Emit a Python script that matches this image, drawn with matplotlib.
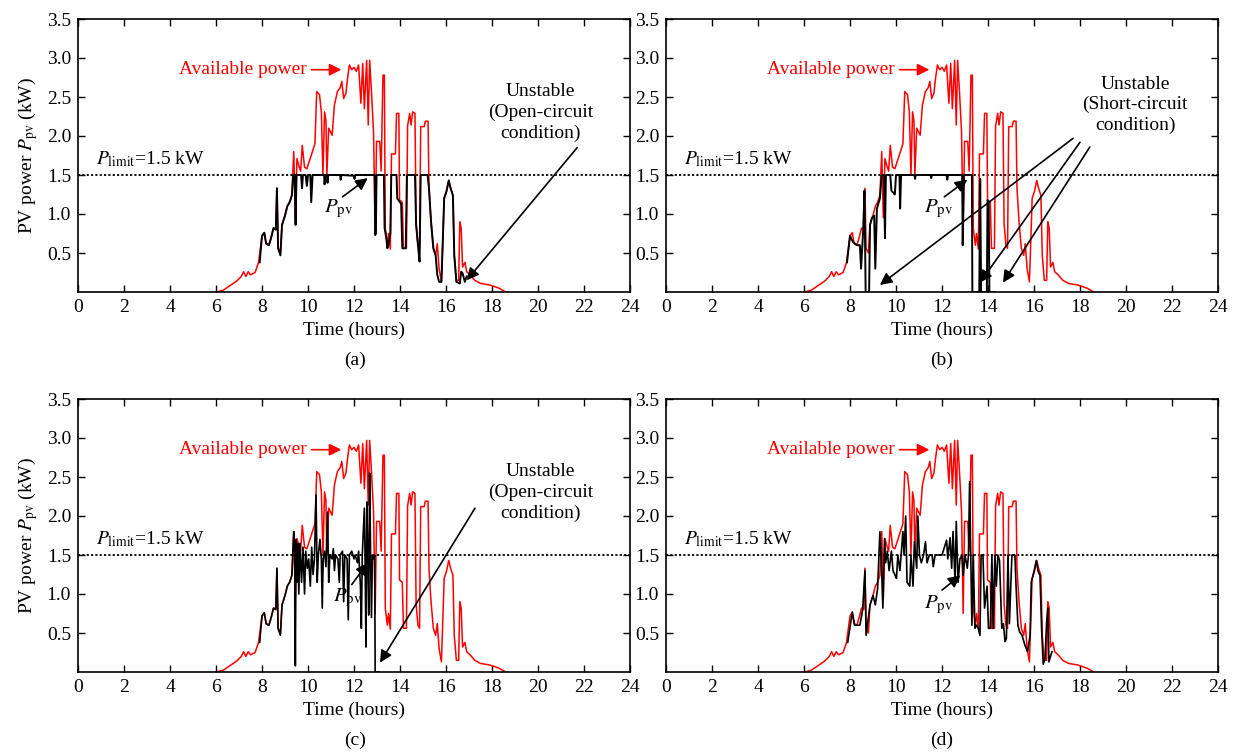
import matplotlib.pyplot as plt

plt.rcParams['font.family'] = ['Liberation Serif', 'DejaVu Serif']
plt.rcParams['mathtext.fontset'] = 'stix'

# available PV power (red), same in all panels
t_avail = [6.0, 6.3, 6.6, 6.9, 7.1, 7.2, 7.3, 7.4, 7.5, 7.7, 7.85, 8.0, 8.1, 8.18, 8.3, 8.4,
           8.5, 8.6, 8.65, 8.7, 8.8, 8.87, 9.0, 9.1, 9.2, 9.3, 9.38, 9.45, 9.52, 9.6, 9.68,
           9.75, 9.85, 9.95, 10.05, 10.15, 10.3, 10.38, 10.5, 10.58, 10.65, 10.72, 10.78,
           10.82, 10.9, 11.05, 11.15, 11.28, 11.4, 11.47, 11.55, 11.65, 11.72, 11.8, 11.9,
           12.0, 12.1, 12.2, 12.3, 12.38, 12.45, 12.55, 12.62, 12.68, 12.76, 12.85, 12.92,
           12.98, 13.12, 13.18, 13.26, 13.32, 13.36, 13.45, 13.5, 13.58, 13.63, 13.8, 13.85,
           13.95, 13.98, 14.1, 14.15, 14.28, 14.33, 14.42, 14.48, 14.55, 14.65, 14.7, 14.78,
           14.85, 14.9, 15.05, 15.1, 15.22, 15.26, 15.35, 15.45, 15.55, 15.62, 15.7, 15.8,
           15.85, 15.92, 16.02, 16.12, 16.2, 16.3, 16.36, 16.45, 16.55, 16.6, 16.66, 16.72,
           16.82, 16.9, 17.05, 17.25, 17.5, 17.9, 18.3, 18.6]
p_avail = [0.0, 0.02, 0.08, 0.14, 0.2, 0.26, 0.2, 0.26, 0.22, 0.25, 0.38, 0.72, 0.76, 0.62, 0.6, 0.7,
           0.82, 0.8, 1.33, 0.56, 0.5, 0.86, 0.98, 1.1, 1.15, 1.24, 1.8, 0.95, 1.71, 1.62, 1.55,
           1.88, 1.6, 1.58, 1.67, 1.76, 1.9, 2.57, 2.53, 2.31, 1.5, 2.31, 2.2,
           1.5, 2.1, 2.01, 2.4, 2.57, 2.62, 2.7, 2.48, 2.55, 2.74, 2.91, 2.85,
           2.88, 2.83, 2.91, 2.42, 2.93, 2.35, 2.97, 2.14, 2.97, 2.57, 2.05, 0.75,
           1.93, 1.93, 1.55, 2.78, 2.78, 0.82, 0.6, 0.75, 0.55, 1.77, 1.77, 2.29,
           2.29, 1.18, 1.15, 0.56, 0.56, 2.13, 2.29, 2.14, 2.31, 2.29, 0.87, 0.6,
           0.56, 2.12, 2.12, 2.19, 2.19, 1.33, 0.9, 0.56, 0.47, 0.62, 0.3, 0.13,
           0.56, 1.2, 1.29, 1.43, 1.33, 1.24, 0.47, 0.15, 0.15, 0.9, 0.82, 0.32,
           0.38, 0.26, 0.22, 0.15, 0.11, 0.09, 0.05, 0.0]

# PV output power (black) per panel
t_pv_a = [7.9, 8.0, 8.1, 8.18, 8.3, 8.4, 8.5, 8.6, 8.65, 8.7, 8.8, 8.87, 9.0, 9.1, 9.2, 9.3, 9.36,
          9.42, 9.46, 9.5, 9.6, 9.7, 9.74, 9.78, 9.9, 9.95, 10.0, 10.1, 10.14, 10.2, 10.7, 10.72,
          10.76, 10.82, 10.85, 10.88, 11.4, 11.42, 11.45, 12.0, 12.02, 12.05, 12.9, 12.92, 12.95,
          12.98, 13.3, 13.33, 13.4, 13.45, 13.5, 13.58, 13.62, 13.85, 13.88, 14.05, 14.1, 14.25,
          14.3, 14.65, 14.7, 14.78, 14.85, 14.9, 15.2, 15.26, 15.35, 15.45, 15.55, 15.62, 15.7,
          15.8, 15.85, 15.92, 16.02, 16.12, 16.2, 16.3, 16.36, 16.45, 16.6, 16.66, 16.72, 16.82, 16.9]
p_pv_a = [0.38, 0.72, 0.76, 0.62, 0.6, 0.7, 0.82, 0.8, 1.33, 0.56, 0.47, 0.86, 0.98, 1.1, 1.15, 1.24, 1.5,
          1.5, 0.86, 1.5, 1.5, 1.5, 1.33, 1.5, 1.5, 1.36, 1.5, 1.5, 1.15, 1.5, 1.5, 1.38,
          1.5, 1.5, 1.4, 1.5, 1.5, 1.44, 1.5, 1.49, 1.45, 1.5, 1.5, 0.73, 0.75,
          1.5, 1.5, 0.82, 0.7, 0.56, 0.62, 0.75, 1.5, 1.5, 1.2, 1.13, 0.56, 0.56,
          1.5, 1.5, 0.87, 0.6, 0.39, 1.5, 1.5, 1.33, 0.9, 0.56, 0.47, 0.22, 0.13,
          0.13, 0.56, 1.2, 1.29, 1.43, 1.33, 1.24, 0.47, 0.13, 0.11, 0.26, 0.24, 0.13, 0.2]

t_pv_b = [7.87, 8.0, 8.13, 8.3, 8.43, 8.48, 8.57, 8.63, 8.68, 8.83, 8.87, 8.95, 9.05, 9.1, 9.17,
          9.3, 9.38, 9.48, 9.52, 9.56, 9.75, 9.8, 9.95, 10.0, 10.15, 10.18, 10.22, 10.8, 10.83,
          10.86, 11.5, 11.53, 11.56, 12.2, 12.23, 12.26, 12.88, 12.9, 12.95, 13.3, 13.32, 13.62,
          13.66, 13.7, 13.95, 13.98, 14.03, 14.06, 14.3]
p_pv_b = [0.38, 0.72, 0.64, 0.6, 0.6, 0.3, 0.77, 1.3, 0.0, 0.0, 0.86, 0.95, 0.98, 0.3, 1.07,
          1.2, 1.5, 1.5, 0.69, 1.5, 1.5, 1.3, 1.25, 1.5, 1.5, 1.07, 1.5, 1.5, 1.45,
          1.5, 1.5, 1.46, 1.5, 1.5, 1.44, 1.5, 1.5, 0.6, 1.5, 1.5, 0.0, 0.0,
          1.45, 0.0, 0.0, 1.18, 1.15, 0.0, 0.0]

t_pv_c = [7.9, 8.0, 8.1, 8.18, 8.3, 8.4, 8.5, 8.6, 8.65, 8.7, 8.8, 8.87, 9.0, 9.1, 9.2, 9.3, 9.38,
          9.42, 9.45, 9.48, 9.52, 9.56, 9.6, 9.65, 9.72, 9.78, 9.85, 9.9, 9.97, 10.03, 10.1, 10.16,
          10.22, 10.28, 10.35, 10.4, 10.45, 10.52, 10.58, 10.62, 10.66, 10.72, 10.78, 10.85, 10.9,
          10.95, 11.05, 11.1, 11.15, 11.2, 11.3, 11.36, 11.4, 11.5, 11.55, 11.6, 11.7, 11.75, 11.8,
          11.9, 12.0, 12.05, 12.15, 12.2, 12.28, 12.32, 12.36, 12.45, 12.48, 12.52, 12.56, 12.6,
          12.64, 12.68, 12.72, 12.76, 12.8, 12.86, 12.9, 12.92, 13.1]
p_pv_c = [0.38, 0.72, 0.76, 0.62, 0.6, 0.7, 0.82, 0.8, 1.33, 0.56, 0.47, 0.86, 0.98, 1.1, 1.15, 1.24, 1.8,
          1.6, 0.08, 1.7, 1.15, 1.65, 1.0, 1.65, 1.15, 1.6, 1.0, 1.55, 1.33, 1.45, 1.1, 1.6,
          1.25, 1.45, 2.27, 1.15, 1.5, 1.7, 1.45, 0.82, 1.45, 1.55, 1.35, 2.05, 1.15,
          1.5, 1.45, 1.58, 1.3, 1.5, 1.45, 1.15, 1.5, 1.55, 0.9, 1.5, 1.45, 0.67, 1.5,
          1.55, 1.45, 1.5, 1.4, 1.55, 1.1, 0.56, 1.5, 2.1, 1.5, 0.32, 2.18, 1.5,
          0.73, 2.55, 1.5, 0.7, 1.5, 1.45, 1.5, 0.0, 0.0]

t_pv_d = [7.9, 8.1, 8.2, 8.43, 8.55, 8.65, 8.7, 8.87, 9.0, 9.1, 9.2, 9.3, 9.35, 9.43, 9.5, 9.55,
          9.62, 9.7, 9.8, 9.87, 9.96, 10.02, 10.08, 10.17, 10.3, 10.35, 10.42, 10.48, 10.6, 10.65,
          10.74, 10.8, 10.9, 10.95, 11.02, 11.1, 11.2, 11.28, 11.35, 11.45, 11.57, 11.62, 11.7,
          11.85, 12.0, 12.2, 12.25, 12.35, 12.42, 12.48, 12.57, 12.62, 12.7, 12.78, 12.87, 12.92,
          13.0, 13.1, 13.15, 13.2, 13.25, 13.3, 13.36, 13.43, 13.5, 13.58, 13.65, 13.7, 13.78,
          13.85, 13.96, 14.02, 14.1, 14.17, 14.22, 14.3, 14.36, 14.43, 14.5, 14.6, 14.67, 14.74,
          14.8, 14.87, 14.93, 15.04, 15.17, 15.22, 15.3, 15.38, 15.48, 15.61, 15.72, 15.83, 15.88,
          16.0, 16.1, 16.18, 16.26, 16.33, 16.4, 16.48, 16.55, 16.6, 16.65, 16.78]
p_pv_d = [0.38, 0.77, 0.6, 0.6, 0.8, 1.3, 0.47, 0.86, 0.98, 0.86, 1.07, 1.8, 1.5, 0.82, 1.71, 1.4,
          1.55, 1.3, 1.55, 1.3, 1.24, 1.2, 1.5, 1.3, 1.8, 1.5, 2.0, 1.15, 1.1, 1.5,
          1.1, 1.67, 1.33, 2.0, 1.5, 1.4, 1.5, 1.67, 1.4, 1.5, 1.5, 1.35, 1.5,
          1.5, 1.5, 1.69, 1.45, 1.72, 1.33, 1.8, 1.15, 1.93, 1.15, 1.45, 1.5, 1.24,
          1.5, 1.33, 1.5, 2.44, 1.5, 0.6, 1.5, 0.56, 0.6, 0.56, 0.47, 1.5, 1.5,
          0.82, 1.1, 0.56, 0.56, 1.5, 0.56, 1.5, 1.1, 1.5, 1.43, 0.56, 0.62, 0.39,
          0.43, 1.5, 0.62, 1.5, 1.5, 1.1, 0.6, 0.51, 0.47, 0.34, 0.26, 0.47, 1.15,
          1.29, 1.43, 1.29, 1.24, 0.56, 0.1, 0.17, 0.64, 0.82, 0.13, 0.26]

p_limit = 1.5
x_ticks = list(range(0, 25, 2))
y_ticks = [0.5, 1.0, 1.5, 2.0, 2.5, 3.0, 3.5]

FS = 14

fig = plt.figure(figsize=(12.36, 7.54), dpi=100)
W, H = 1236, 754

ARROW = dict(arrowstyle='-|>', lw=1.2, mutation_scale=18, shrinkA=0, shrinkB=0)


def make_ax(left, top, ylabel):
    ax = fig.add_axes([left / W, (H - top - 273) / H, 552 / W, 273 / H])
    ax.set_xlim(0, 24)
    ax.set_ylim(0, 3.5)
    ax.set_xticks(x_ticks)
    ax.set_yticks(y_ticks)
    ax.set_yticklabels([f"{v:.1f}" for v in y_ticks])
    ax.tick_params(direction='in', top=True, right=True, length=5, width=1,
                   labelsize=FS, pad=5)
    for s in ax.spines.values():
        s.set_linewidth(1.2)
    ax.set_xlabel('Time (hours)', fontsize=FS, labelpad=4)
    if ylabel:
        ax.set_ylabel(r'PV power $P_{\mathrm{pv}}$ (kW)', fontsize=FS, labelpad=5)
    ax.axhline(p_limit, color='black', linestyle=(0, (1.2, 1.2)), lw=1.3, zorder=1)
    ax.plot(t_avail, p_avail, color='red', lw=1.1, zorder=2)
    ax.text(0.8, 1.58, r'$P_{\mathrm{limit}}$=1.5 kW', fontsize=FS, va='bottom')
    ax.text(4.4, 2.85, 'Available power', color='red', fontsize=FS, va='center')
    ax.annotate('', xy=(11.45, 2.85), xytext=(10.15, 2.85),
                arrowprops=dict(ARROW, color='red'))
    return ax


def ppv_label(ax, tx, ty, ax0, ay0, ax1, ay1):
    ax.text(tx, ty, r'$P_{\mathrm{pv}}$', fontsize=FS + 1, va='center')
    ax.annotate('', xy=(ax1, ay1), xytext=(ax0, ay0),
                arrowprops=dict(ARROW, color='black'))


def unstable(ax, tx, ty, text, arrows):
    ax.text(tx, ty, text, fontsize=FS, ha='center', va='center', linespacing=1.25)
    for (x0, y0, x1, y1) in arrows:
        ax.annotate('', xy=(x1, y1), xytext=(x0, y0),
                    arrowprops=dict(ARROW, color='black'))


# (a)
ax_a = make_ax(78, 19, True)
ax_a.plot(t_pv_a, p_pv_a, color='black', lw=1.4, zorder=3)
ppv_label(ax_a, 10.7, 1.06, 11.5, 1.22, 12.6, 1.46)
unstable(ax_a, 20.1, 2.3, 'Unstable\n(Open-circuit\ncondition)',
         [(21.7, 1.85, 16.9, 0.15)])
fig.text(355 / W, 1 - 360 / H, '(a)', fontsize=FS, ha='center', va='center')

# (b)
ax_b = make_ax(666, 19, False)
ax_b.plot(t_pv_b, p_pv_b, color='black', lw=1.4, zorder=3)
ppv_label(ax_b, 11.2, 1.06, 12.1, 1.22, 13.1, 1.44)
unstable(ax_b, 20.4, 2.4, 'Unstable\n(Short-circuit\ncondition)',
         [(17.7, 1.97, 9.3, 0.09), (18.0, 1.92, 13.65, 0.12), (18.43, 1.86, 14.65, 0.12)])
fig.text(942 / W, 1 - 360 / H, '(b)', fontsize=FS, ha='center', va='center')

# (c)
ax_c = make_ax(78, 399, True)
ax_c.plot(t_pv_c, p_pv_c, color='black', lw=1.2, zorder=3)
ppv_label(ax_c, 11.1, 0.95, 11.9, 1.12, 12.6, 1.4)
unstable(ax_c, 20.1, 2.3, 'Unstable\n(Open-circuit\ncondition)',
         [(17.26, 2.1, 13.13, 0.12)])
fig.text(355 / W, 1 - 740 / H, '(c)', fontsize=FS, ha='center', va='center')

# (d)
ax_d = make_ax(666, 399, False)
ax_d.plot(t_pv_d, p_pv_d, color='black', lw=1.2, zorder=3)
ppv_label(ax_d, 11.2, 0.86, 12.0, 1.05, 12.8, 1.24)
fig.text(942 / W, 1 - 740 / H, '(d)', fontsize=FS, ha='center', va='center')

fig.savefig('out.png', dpi=100)
